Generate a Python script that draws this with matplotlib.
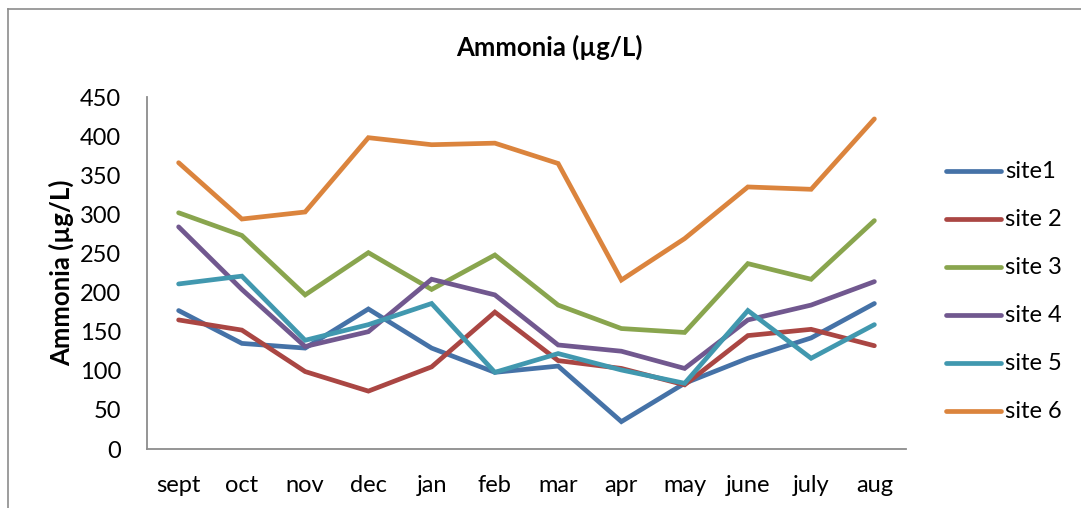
import matplotlib.pyplot as plt
from matplotlib.lines import Line2D

months = ['sept', 'oct', 'nov', 'dec', 'jan', 'feb', 'mar', 'apr', 'may', 'june', 'july', 'aug']
site_names = ['site1', 'site 2', 'site 3', 'site 4', 'site 5', 'site 6']

site1 = [177, 135, 129, 179, 129, 98, 106, 35, 84, 116, 142, 186]
site2 = [165, 152, 99, 74, 105, 175, 113, 103, 82, 145, 153, 132]
site3 = [302, 273, 197, 251, 204, 248, 184, 154, 149, 237, 217, 292]
site4 = [284, 204, 131, 150, 217, 197, 133, 125, 103, 165, 184, 214]
site5 = [211, 221, 139, 159, 186, 98, 122, 101, 84, 177, 116, 159]
site6 = [366, 294, 303, 398, 389, 391, 365, 216, 269, 335, 332, 422]

series = [site1, site2, site3, site4, site5, site6]
colors = ['#4572A7', '#AA4643', '#89A54E', '#71588F', '#4198AF', '#DB843D']

plt.rcParams['font.family'] = ['Lato', 'DejaVu Sans']

fig = plt.figure(figsize=(10.81, 5.08), dpi=100)
ax = fig.add_axes([147 / 1081, 1 - 449 / 508, (906 - 147) / 1081, (449 - 97) / 508])

x = list(range(len(months)))
for vals, name, c in zip(series, site_names, colors):
    ax.plot(x, vals, color=c, lw=3.4, solid_capstyle='round', solid_joinstyle='miter', label=name)

ax.set_xlim(-0.5, len(months) - 0.5)
ax.set_ylim(0, 450)
ax.set_yticks(range(0, 451, 50))
ax.set_xticks(x)
ax.set_xticklabels(months)
ax.tick_params(axis='both', length=0, labelsize=17, colors='black')
ax.tick_params(axis='x', pad=19)
ax.tick_params(axis='y', pad=18.5)
for s in ['top', 'right']:
    ax.spines[s].set_visible(False)
for s in ['left', 'bottom']:
    ax.spines[s].set_color('#8c8c8c')
    ax.spines[s].set_linewidth(1.3)

fig.text(549 / 1081, 1 - 47 / 508, 'Ammonia (µg/L)', ha='center', va='center',
         fontsize=18.5, fontweight='bold')
fig.text(61 / 1081, 1 - 273 / 508, 'Ammonia (µg/L)', ha='center', va='center',
         fontsize=18.5, fontweight='bold', rotation=90)

# legend drawn by hand on the figure
for i, (name, c) in enumerate(zip(site_names, colors)):
    yy = 1 - (171 + 48 * i) / 508
    fig.add_artist(Line2D([946 / 1081, 1001 / 1081], [yy, yy], color=c, lw=3.4,
                          solid_capstyle='round'))
    fig.text(1005 / 1081, yy, name, ha='left', va='center', fontsize=17)

# chart border (cropped on right/bottom)
fig.add_artist(Line2D([8 / 1081, 8 / 1081], [0, 1 - 9 / 508], color='#8c8c8c', lw=1.2))
fig.add_artist(Line2D([8 / 1081, 1], [1 - 9 / 508, 1 - 9 / 508], color='#8c8c8c', lw=1.2))

fig.savefig('out.png', dpi=100)
